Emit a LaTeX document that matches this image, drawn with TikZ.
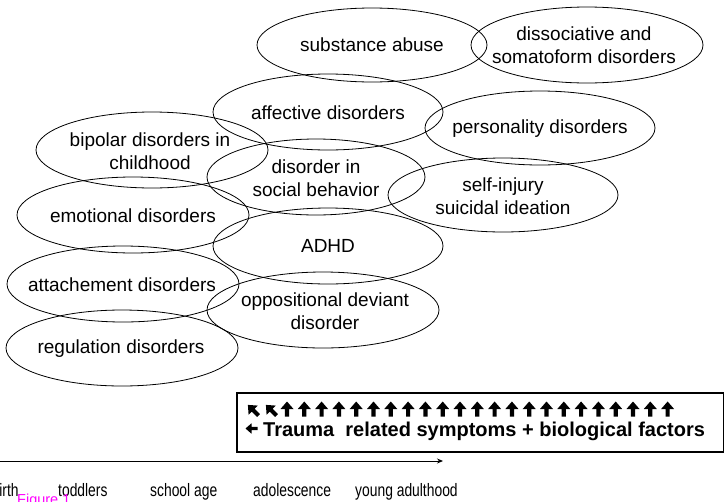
\documentclass[tikz,border=0pt]{standalone}
\usepackage{fontspec}
\setmainfont{Liberation Sans}
\newfontfamily\agefont{Liberation Sans}[FakeStretch=0.77]
\usetikzlibrary{arrows.meta}
\definecolor{figmag}{RGB}{255,0,255}
\tikzset{
  lbl/.style={font=\fontsize{19}{22.5}\selectfont, align=center, inner sep=0pt},
  ell/.style={line width=0.8pt},
  age/.style={font=\agefont\fontsize{18}{20}\selectfont, anchor=base west, inner sep=0pt},
  boxline/.style={anchor=base west, inner sep=0pt},
  fatarrow/.pic={\fill (-2.1,0) -- (-2.1,-7.5) -- (-6.5,-7.5) -- (0,-15) -- (6.5,-7.5) -- (2.1,-7.5) -- (2.1,0) -- cycle;}
}
\begin{document}
\begin{tikzpicture}[x=1pt,y=-1pt]
\useasboundingbox (0,0) rectangle (725,501);
\clip (0,0) rectangle (725,501);
% ellipses
\node[lbl] (sub) at (372,45) {substance abuse};
\draw[ell] (372,45) ellipse [x radius=115pt, y radius=37pt];
\node[lbl] (dis) at (584,45) {dissociative and\\somatoform disorders};
\draw[ell] (587,45) ellipse [x radius=116pt, y radius=38pt];
\node[lbl] (aff) at (328,113) {affective disorders};
\draw[ell] (328,112) ellipse [x radius=115pt, y radius=38pt];
\node[lbl] (per) at (540,129) {personality disorders};
\draw[ell] (540,128) ellipse [x radius=115pt, y radius=37pt];
\node[lbl] (bip) at (150,151) {bipolar disorders in\\childhood};
\draw[ell] (152,150) ellipse [x radius=116pt, y radius=38pt];
\node[lbl] (soc) at (316,178) {disorder in\\social behavior};
\draw[ell] (316,177) ellipse [x radius=109pt, y radius=38pt];
\node[lbl] (self) at (503,196) {self-injury\\suicidal ideation};
\draw[ell] (503,195) ellipse [x radius=115pt, y radius=37pt];
\node[lbl] (emo) at (133,216) {emotional disorders};
\draw[ell] (133,215) ellipse [x radius=116pt, y radius=38pt];
\node[lbl] (adhd) at (328,246) {ADHD};
\draw[ell] (328,246) ellipse [x radius=115pt, y radius=38pt];
\node[lbl] (att) at (122,285) {attachement disorders};
\draw[ell] (123,284) ellipse [x radius=116pt, y radius=38pt];
\node[lbl] (odd) at (325,311) {oppositional deviant\\disorder};
\draw[ell] (323,310) ellipse [x radius=116pt, y radius=38pt];
\node[lbl] (reg) at (121,349) {regulation disorders};
\draw[ell] (122,348) ellipse [x radius=116pt, y radius=38pt];
% box
\draw[line width=1.4pt] (237,393) rectangle (723.5,452);
\pic[rotate=45] at (258.5,415.5) {fatarrow};
\pic[rotate=45] at (276.5,415.5) {fatarrow};
\foreach \i in {0,...,22} {
  \pic at (287+17.3*\i,416.5) {fatarrow};
}
\pic[rotate=90, scale=0.8] at (257.5,428.5) {fatarrow};
\node[boxline] (trauma) at (263,436) {\bfseries\fontsize{20}{24}\selectfont Trauma\ \ related symptoms + biological factors};
% timeline
\coordinate (tlS) at (-2,461);
\coordinate (tlE) at (443,461);
\draw[line width=0.9pt, -{Stealth[length=6pt,width=5pt]}] (tlS) -- (tlE);
\node[age] (birth) at (-8.5,496) {birth};
\node[age] (tod) at (58,496) {toddlers};
\node[age] (school) at (150,496) {school age};
\node[age] (adol) at (253,496) {adolescence};
\node[age] (young) at (355,496) {young adulthood};
\node[anchor=base west, inner sep=0pt, text=figmag, font=\fontsize{14.5}{16}\selectfont] (fig) at (17,504) {Figure 1};
\end{tikzpicture}
\end{document}
